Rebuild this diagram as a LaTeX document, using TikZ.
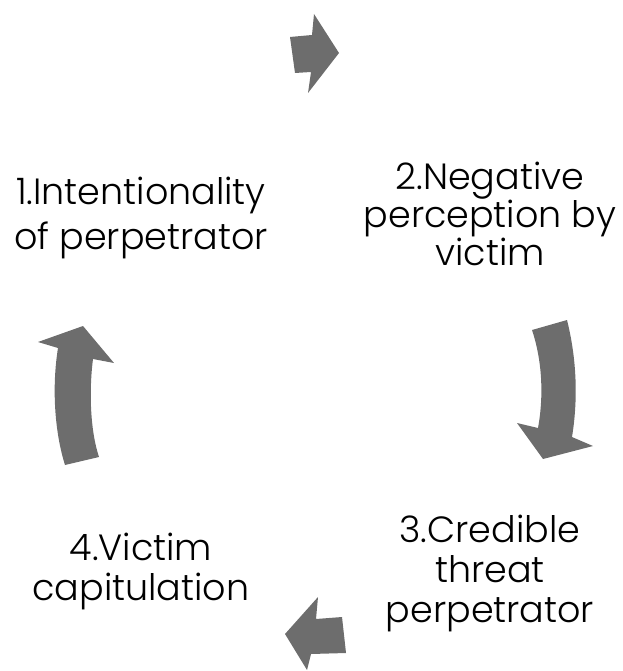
\documentclass[tikz,border=0pt]{standalone}
\usepackage{fontspec}
\setmainfont{Poppins}[UprightFont=* Light]
\usetikzlibrary{positioning}
\definecolor{arrowgray}{RGB}{109,109,109}

\begin{document}
\begin{tikzpicture}[x=1pt, y=-1pt,
    step arrow/.style={fill=arrowgray, draw=none},
    phase/.style={font=\fontsize{36.5}{38}\selectfont, align=center, inner sep=0pt, text=black}]
          \useasboundingbox (0,0) rectangle (622,671);

          \node[phase, anchor=base] (p1) at (141,249) {1.Intentionality\\[7pt]of perpetrator};
          \node[phase, anchor=base] (p2) at (490,265) {2.Negative\\perception by\\victim};
          \node[phase, anchor=base] (p3) at (490,622) {3.Credible\\[2pt]threat\\[2pt]perpetrator};
          \node[phase, anchor=base] (p4) at (141,600) {4.Victim\\[2pt]capitulation};

          \fill[step arrow] (290,37) -- (312,35) -- (314,14) -- (339,53) -- (308,93) -- (311,72) -- (295,73) -- cycle;
          \fill[step arrow] (532,330) -- (567,320) .. controls (577,360) and (578,400) .. (572,437)
            -- (593,446) -- (543,459) -- (517,423) -- (538,428) .. controls (544,395) and (542,360) .. (532,330) -- cycle;
          \fill[step arrow] (342,617) -- (316,619) -- (318,597) -- (285,634) -- (307,670) -- (311,654) -- (346,653) -- cycle;
          \fill[step arrow] (65,465) -- (99,457) .. controls (90,430) and (89,390) .. (93,359)
            -- (114,363) -- (83,326) -- (38,342) -- (58,348) .. controls (52,385) and (54,430) .. (65,465) -- cycle;
        \end{tikzpicture}
\end{document}
